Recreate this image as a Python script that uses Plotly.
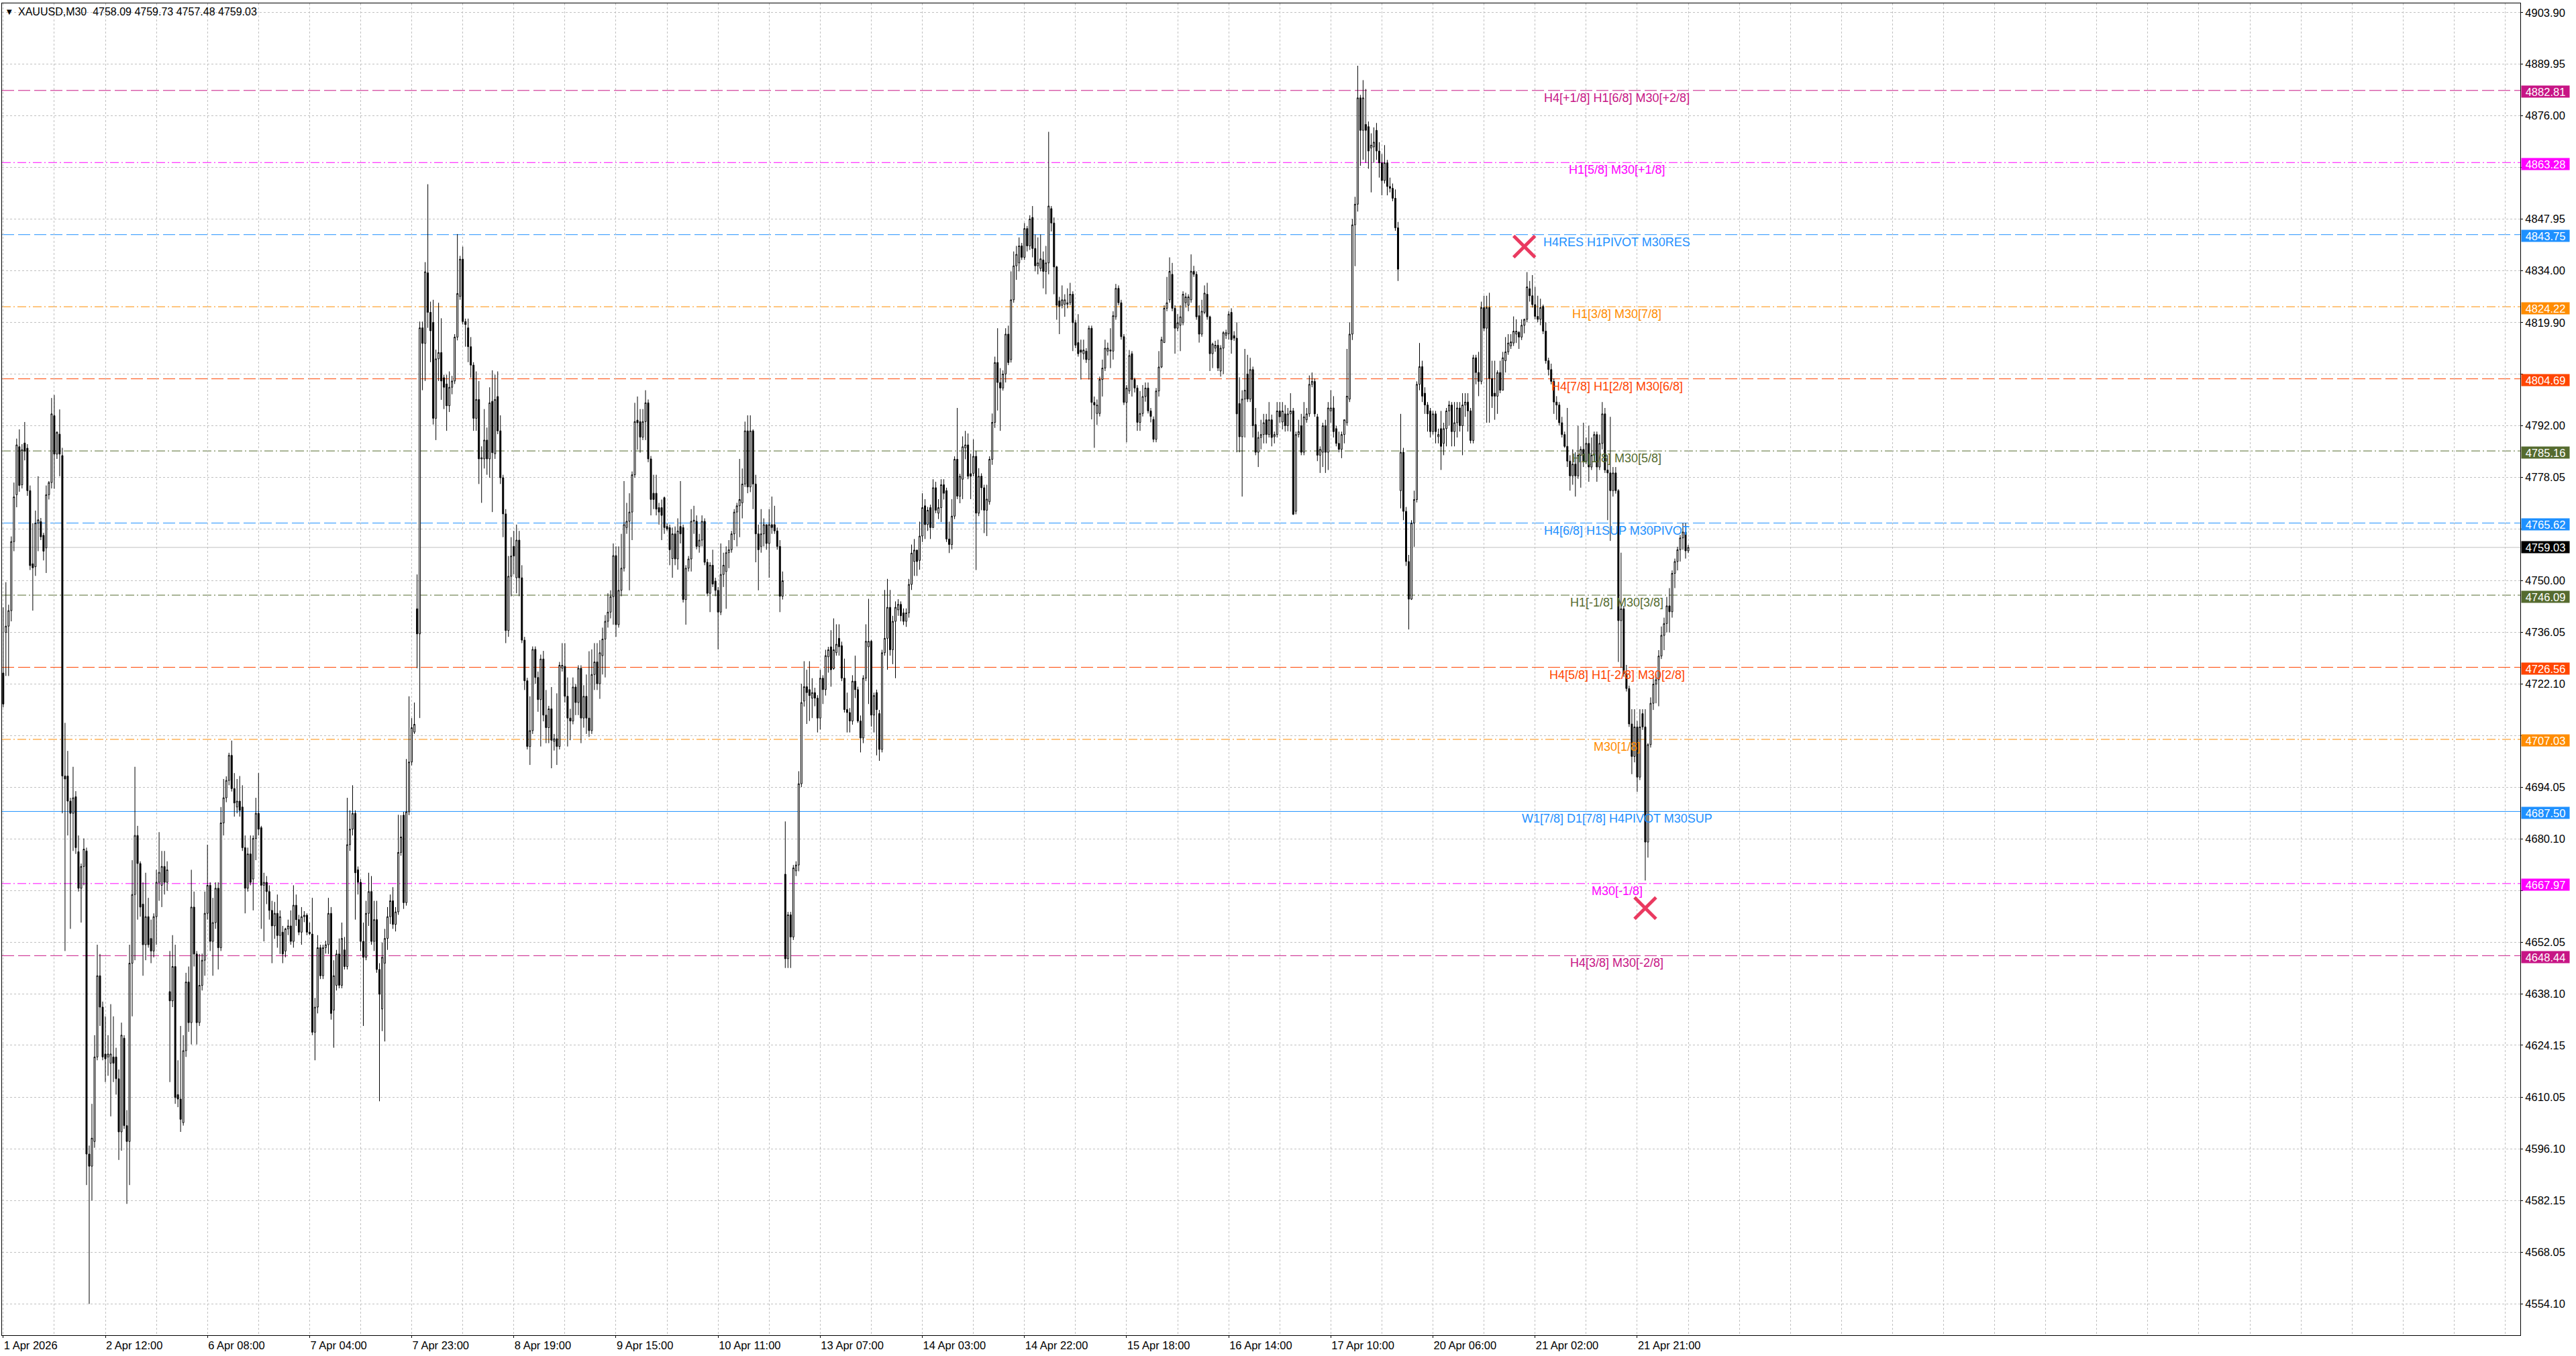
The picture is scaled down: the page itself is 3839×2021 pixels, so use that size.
import plotly.graph_objects as go

# XAUUSD M30 candles (bar 0 = 1 Apr 2026)
opens = [
    4725.0, 4736.0, 4737.7, 4741.9, 4760.6, 4773.3, 4786.3, 4776.0, 4787.3, 4785.9,
    4774.4, 4754.6, 4753.8, 4765.6, 4766.0, 4762.3, 4758.9, 4773.3, 4776.6, 4794.7,
    4784.3, 4789.7, 4783.9, 4697.1, 4697.1, 4690.3, 4687.0, 4691.5, 4676.6, 4666.7,
    4672.6, 4676.8, 4594.7, 4591.4, 4598.1, 4621.0, 4643.0, 4634.5, 4621.8, 4621.0,
    4619.3, 4621.0, 4621.0, 4615.1, 4600.7, 4626.1, 4602.4, 4598.1, 4646.4, 4665.0,
    4681.0, 4673.4, 4662.4, 4651.4, 4659.0, 4653.1, 4649.7, 4659.0, 4668.3, 4667.5,
    4672.6, 4668.3, 4638.7, 4636.2, 4645.5, 4610.8, 4609.6, 4603.2, 4622.7, 4641.3,
    4630.3, 4661.6, 4648.9, 4630.3, 4640.4, 4647.2, 4659.9, 4667.5, 4652.3, 4657.4,
    4666.7, 4650.6, 4684.4, 4691.2, 4695.9, 4702.7, 4693.7, 4688.7, 4690.3, 4688.7,
    4677.7, 4666.7, 4676.0, 4669.2, 4680.2, 4687.0, 4683.1, 4667.5, 4668.3, 4665.8,
    4660.7, 4656.5, 4659.9, 4653.9, 4654.8, 4649.7, 4655.7, 4656.5, 4652.3, 4662.1,
    4658.2, 4654.8, 4659.0, 4659.4, 4654.8, 4654.3, 4627.7, 4634.5, 4650.6, 4643.0,
    4650.6, 4651.4, 4659.9, 4633.7, 4640.4, 4648.9, 4640.4, 4650.0, 4645.5, 4678.5,
    4682.7, 4687.0, 4671.7, 4668.3, 4652.3, 4648.0, 4659.9, 4665.8, 4652.3, 4658.2,
    4644.7, 4634.0, 4646.4, 4653.1, 4659.0, 4663.3, 4656.9, 4660.3, 4676.4, 4686.5,
    4662.8, 4687.4, 4700.9, 4709.0, 4742.4, 4735.6, 4818.5, 4814.3, 4833.4, 4822.7,
    4820.0, 4794.0, 4810.1, 4811.8, 4805.0, 4803.3, 4797.4, 4802.4, 4804.1, 4816.0,
    4827.0, 4837.1, 4820.2, 4818.5, 4813.4, 4808.4, 4794.0, 4799.1, 4783.0, 4783.0,
    4788.1, 4783.0, 4798.6, 4784.4, 4799.9, 4790.6, 4777.9, 4768.1, 4736.5, 4751.2,
    4759.3, 4750.8, 4761.0, 4750.8, 4733.9, 4722.9, 4705.1, 4709.4, 4731.4, 4723.8,
    4717.8, 4728.8, 4713.6, 4710.2, 4715.3, 4706.5, 4707.2, 4705.1, 4726.3, 4726.8,
    4718.7, 4712.8, 4712.0, 4721.2, 4717.0, 4726.3, 4712.8, 4718.7, 4712.8, 4709.4,
    4724.6, 4728.0, 4722.1, 4729.7, 4734.2, 4739.0, 4741.5, 4745.7, 4756.8, 4738.1,
    4747.4, 4753.4, 4764.4, 4766.1, 4768.6, 4778.7, 4793.5, 4793.1, 4788.9, 4793.1,
    4798.2, 4783.0, 4773.7, 4773.7, 4769.8, 4769.8, 4772.5, 4764.7, 4764.4, 4756.0,
    4762.7, 4755.9, 4764.7, 4764.4, 4744.9, 4753.4, 4755.9, 4766.1, 4766.1, 4759.3,
    4761.0, 4766.1, 4755.0, 4746.6, 4754.2, 4749.9, 4747.4, 4741.5, 4751.7, 4752.5,
    4757.6, 4758.4, 4762.7, 4768.6, 4770.3, 4771.1, 4776.2, 4790.6, 4775.4, 4790.6,
    4776.2, 4762.7, 4759.3, 4762.7, 4765.2, 4760.1, 4765.2, 4765.2, 4763.5, 4759.3,
    4745.8, 4670.5, 4647.6, 4659.5, 4653.5, 4671.4, 4673.0, 4695.0, 4717.4, 4721.3,
    4720.5, 4718.2, 4719.7, 4718.2, 4712.8, 4723.6, 4720.5, 4729.4, 4732.1, 4726.2,
    4730.5, 4734.4, 4732.4, 4723.6, 4715.1, 4714.3, 4712.0, 4722.8, 4720.5, 4712.0,
    4707.4, 4723.6, 4732.1, 4733.6, 4713.6, 4719.7, 4714.0, 4704.3, 4730.5, 4734.4,
    4742.8, 4731.3, 4739.0, 4742.1, 4743.6, 4741.3, 4739.0, 4741.3, 4749.0, 4755.2,
    4758.3, 4755.5, 4762.1, 4770.3, 4765.2, 4769.8, 4764.4, 4775.2, 4768.3, 4769.8,
    4776.0, 4774.4, 4761.3, 4759.8, 4767.5, 4782.9, 4772.9, 4777.5, 4786.0, 4786.8,
    4779.0, 4779.1, 4783.7, 4768.3, 4778.3, 4775.2, 4769.1, 4771.4, 4782.9, 4792.9,
    4809.1, 4803.7, 4802.2, 4806.0, 4816.8, 4809.9, 4826.1, 4835.3, 4836.1, 4840.7,
    4837.6, 4845.4, 4840.7, 4848.4, 4840.0, 4835.3, 4834.6, 4836.9, 4833.8, 4836.1,
    4850.8, 4846.9, 4835.0, 4825.8, 4824.6, 4824.9, 4824.9, 4825.3, 4827.6, 4819.9,
    4814.5, 4812.5, 4811.5, 4812.2, 4809.9, 4818.4, 4798.3, 4795.3, 4795.3, 4804.5,
    4807.6, 4812.2, 4812.2, 4812.2, 4821.5, 4829.2, 4825.3, 4816.1, 4798.3, 4801.4,
    4811.5, 4804.5, 4802.2, 4792.9, 4795.3, 4799.9, 4802.2, 4796.0, 4793.7, 4788.3,
    4801.4, 4807.9, 4814.5, 4823.8, 4826.1, 4833.0, 4823.8, 4818.4, 4819.2, 4819.9,
    4825.3, 4824.6, 4826.1, 4833.8, 4833.0, 4821.8, 4816.8, 4822.7, 4827.6, 4821.5,
    4811.5, 4813.0, 4813.8, 4806.8, 4813.0, 4816.5, 4816.9, 4822.7, 4816.4, 4815.7,
    4798.0, 4789.0, 4799.2, 4806.0, 4799.2, 4807.2, 4792.3, 4784.8, 4788.8, 4789.6,
    4793.6, 4789.6, 4793.6, 4789.0, 4789.6, 4796.0, 4793.0, 4795.2, 4792.0, 4795.2,
    4796.0, 4768.8, 4789.6, 4792.0, 4784.8, 4793.6, 4795.2, 4803.2, 4804.0, 4794.4,
    4784.0, 4784.8, 4792.0, 4784.8, 4796.0, 4796.8, 4791.2, 4787.2, 4785.6, 4789.6,
    4792.8, 4799.2, 4816.8, 4846.4, 4852.0, 4880.8, 4872.0, 4873.6, 4873.0, 4867.2,
    4867.5, 4872.0, 4866.4, 4863.2, 4858.4, 4863.2, 4856.8, 4856.3, 4853.6, 4845.6,
    4774.4, 4784.8, 4768.8, 4755.2, 4745.0, 4765.6, 4772.0, 4803.2, 4808.0, 4800.8,
    4797.6, 4796.0, 4790.4, 4795.2, 4789.0, 4791.2, 4787.2, 4791.2, 4796.0, 4797.6,
    4790.4, 4792.8, 4796.8, 4792.0, 4797.6, 4798.4, 4796.0, 4788.0, 4810.4, 4806.4,
    4804.0, 4824.0, 4818.4, 4824.0, 4804.8, 4800.8, 4800.0, 4806.4, 4801.6, 4809.6,
    4812.0, 4813.6, 4814.4, 4816.8, 4817.3, 4816.0, 4819.2, 4820.8, 4829.1, 4827.2,
    4824.8, 4821.6, 4820.8, 4824.3, 4817.6, 4809.6, 4807.2, 4804.0, 4798.4, 4797.6,
    4792.8, 4789.6, 4786.4, 4782.4, 4778.4, 4781.6, 4778.4, 4784.0, 4785.6, 4782.4,
    4787.2, 4780.8, 4784.0, 4789.6, 4780.8, 4787.2, 4795.2, 4780.0, 4779.2, 4774.4,
    4779.2, 4774.4, 4739.2, 4742.4, 4724.8, 4720.8, 4711.2, 4702.4, 4710.4, 4696.8,
    4714.0, 4710.4, 4679.2, 4705.6, 4716.8, 4722.0, 4723.2, 4729.6, 4735.2, 4738.4,
    4743.2, 4741.6, 4752.0, 4755.2, 4758.4, 4761.6, 4763.2, 4758.09,
]

highs = [
    4742.8, 4749.6, 4743.5, 4762.0, 4776.6, 4788.5, 4791.0, 4787.0, 4793.0, 4787.0,
    4775.8, 4765.6, 4769.0, 4778.3, 4767.0, 4763.0, 4775.8, 4777.0, 4799.5, 4800.3,
    4790.5, 4796.4, 4786.0, 4711.5, 4703.9, 4691.2, 4699.6, 4693.0, 4681.0, 4673.4,
    4680.2, 4677.7, 4597.0, 4608.3, 4626.9, 4651.4, 4648.9, 4636.0, 4632.0, 4626.9,
    4635.3, 4632.0, 4623.5, 4617.6, 4630.3, 4626.9, 4606.6, 4651.4, 4674.3, 4699.6,
    4683.6, 4674.0, 4668.3, 4670.9, 4664.1, 4658.2, 4659.9, 4671.7, 4681.9, 4676.8,
    4676.8, 4674.0, 4649.7, 4654.0, 4651.4, 4620.1, 4629.4, 4626.9, 4643.8, 4645.5,
    4671.7, 4665.8, 4649.7, 4648.9, 4649.0, 4665.8, 4678.5, 4668.3, 4664.1, 4668.3,
    4668.3, 4688.7, 4696.3, 4697.0, 4703.4, 4706.7, 4697.9, 4696.3, 4697.1, 4694.6,
    4681.0, 4677.7, 4681.0, 4681.0, 4691.2, 4697.9, 4683.6, 4670.9, 4670.0, 4667.5,
    4663.3, 4663.0, 4665.0, 4660.7, 4656.5, 4656.0, 4658.2, 4660.7, 4667.5, 4665.0,
    4659.5, 4661.6, 4660.5, 4659.9, 4657.4, 4664.1, 4637.0, 4654.0, 4651.4, 4651.4,
    4652.5, 4664.1, 4661.6, 4647.2, 4650.0, 4653.1, 4657.4, 4653.5, 4691.2, 4687.8,
    4694.6, 4687.8, 4672.6, 4669.2, 4657.4, 4663.3, 4670.9, 4670.0, 4663.3, 4663.3,
    4646.4, 4652.0, 4655.7, 4661.6, 4665.0, 4667.0, 4661.6, 4686.6, 4686.5, 4687.4,
    4701.7, 4718.7, 4712.8, 4717.0, 4751.7, 4820.2, 4820.2, 4836.3, 4857.4, 4825.6,
    4826.1, 4812.6, 4825.3, 4821.1, 4805.8, 4805.8, 4806.7, 4805.5, 4816.8, 4843.9,
    4838.0, 4840.5, 4821.0, 4821.0, 4816.0, 4809.2, 4806.7, 4804.1, 4786.4, 4796.5,
    4791.5, 4802.4, 4807.0, 4805.8, 4806.7, 4794.8, 4778.7, 4769.4, 4756.7, 4761.8,
    4763.5, 4765.2, 4763.5, 4754.2, 4734.8, 4723.7, 4718.7, 4732.2, 4732.2, 4725.4,
    4730.0, 4731.0, 4720.4, 4716.1, 4721.2, 4708.5, 4719.5, 4728.0, 4733.1, 4733.1,
    4723.8, 4715.3, 4723.8, 4722.0, 4727.1, 4727.1, 4721.7, 4724.6, 4730.9, 4731.4,
    4733.1, 4733.1, 4733.9, 4737.3, 4740.7, 4746.6, 4747.4, 4760.1, 4759.3, 4759.3,
    4762.7, 4777.0, 4771.1, 4773.7, 4779.6, 4798.2, 4799.9, 4796.5, 4796.5, 4801.6,
    4799.1, 4783.8, 4778.7, 4778.7, 4771.1, 4772.0, 4772.8, 4765.5, 4765.2, 4764.4,
    4764.7, 4766.9, 4777.0, 4765.2, 4754.2, 4756.7, 4769.4, 4770.3, 4767.7, 4762.7,
    4767.7, 4766.9, 4755.9, 4755.0, 4758.4, 4750.8, 4748.3, 4760.1, 4757.6, 4759.3,
    4761.0, 4763.5, 4769.4, 4771.1, 4783.0, 4780.4, 4793.1, 4794.8, 4794.8, 4791.0,
    4778.7, 4765.2, 4769.4, 4766.9, 4765.2, 4769.4, 4772.8, 4770.3, 4764.4, 4761.0,
    4752.5, 4684.8, 4660.3, 4660.3, 4673.0, 4674.0, 4698.4, 4722.1, 4728.2, 4725.9,
    4728.2, 4723.6, 4721.0, 4719.0, 4725.9, 4724.4, 4731.3, 4732.1, 4736.6, 4739.8,
    4738.2, 4738.2, 4733.5, 4728.9, 4719.7, 4715.5, 4724.4, 4729.7, 4721.3, 4713.5,
    4724.4, 4738.2, 4745.1, 4734.0, 4719.7, 4720.5, 4715.0, 4731.3, 4747.5, 4750.5,
    4747.5, 4740.5, 4744.4, 4745.0, 4744.4, 4742.5, 4742.5, 4750.5, 4759.8, 4761.3,
    4758.3, 4766.0, 4773.7, 4772.1, 4770.0, 4770.6, 4777.5, 4776.8, 4772.1, 4777.5,
    4777.5, 4775.2, 4766.0, 4772.1, 4783.7, 4796.8, 4779.0, 4789.1, 4790.6, 4789.9,
    4784.4, 4788.3, 4785.2, 4780.5, 4779.1, 4776.0, 4776.0, 4783.7, 4795.3, 4810.7,
    4818.4, 4807.6, 4807.0, 4818.4, 4819.1, 4833.8, 4839.2, 4840.7, 4843.0, 4841.5,
    4846.9, 4846.1, 4849.0, 4851.5, 4843.8, 4843.0, 4843.8, 4839.2, 4840.7, 4871.6,
    4851.5, 4848.4, 4835.3, 4826.9, 4830.0, 4827.6, 4829.2, 4830.7, 4828.4, 4820.7,
    4822.2, 4815.3, 4815.3, 4813.0, 4819.1, 4819.1, 4799.9, 4799.1, 4805.3, 4809.9,
    4815.3, 4814.5, 4818.4, 4823.0, 4830.4, 4830.0, 4826.1, 4816.8, 4803.0, 4812.5,
    4812.2, 4805.0, 4803.0, 4801.4, 4803.0, 4803.7, 4803.7, 4796.8, 4794.5, 4802.2,
    4812.2, 4816.1, 4824.6, 4832.3, 4837.6, 4836.1, 4824.6, 4822.2, 4824.6, 4828.4,
    4828.0, 4827.6, 4838.4, 4835.3, 4833.8, 4824.6, 4826.1, 4830.0, 4830.7, 4821.8,
    4814.5, 4815.0, 4815.3, 4813.8, 4817.6, 4818.0, 4823.0, 4823.8, 4817.6, 4820.0,
    4805.1, 4801.6, 4812.8, 4811.2, 4810.4, 4808.0, 4796.8, 4790.4, 4793.6, 4795.2,
    4795.2, 4798.4, 4795.0, 4790.4, 4798.4, 4798.4, 4798.4, 4797.6, 4796.8, 4800.8,
    4796.8, 4790.4, 4793.6, 4795.2, 4798.4, 4796.8, 4805.6, 4806.4, 4804.8, 4795.2,
    4786.4, 4792.8, 4793.6, 4798.4, 4801.6, 4800.0, 4792.0, 4790.4, 4790.4, 4793.6,
    4812.8, 4820.0, 4848.0, 4854.0, 4889.5, 4881.6, 4885.6, 4883.2, 4874.4, 4871.2,
    4872.8, 4874.0, 4868.8, 4865.6, 4868.0, 4864.0, 4859.2, 4857.6, 4856.0, 4847.2,
    4795.2, 4786.0, 4770.0, 4757.0, 4766.4, 4774.4, 4804.0, 4814.4, 4809.6, 4802.4,
    4798.4, 4796.8, 4796.0, 4796.0, 4791.2, 4796.0, 4792.8, 4796.8, 4798.7, 4798.4,
    4798.4, 4798.4, 4798.4, 4800.8, 4800.8, 4800.8, 4796.8, 4811.2, 4811.2, 4812.0,
    4825.6, 4827.2, 4827.2, 4828.0, 4809.6, 4809.6, 4807.0, 4809.6, 4812.0, 4816.0,
    4816.8, 4816.8, 4821.6, 4820.8, 4817.6, 4820.8, 4821.0, 4833.6, 4831.2, 4832.8,
    4829.6, 4827.2, 4826.4, 4824.8, 4820.0, 4810.4, 4808.8, 4804.8, 4800.0, 4798.4,
    4794.4, 4790.4, 4796.8, 4784.0, 4785.6, 4784.8, 4792.0, 4786.4, 4792.8, 4788.8,
    4792.0, 4788.8, 4790.4, 4790.4, 4789.6, 4798.4, 4796.8, 4784.0, 4794.4, 4780.8,
    4780.8, 4774.8, 4757.6, 4743.2, 4727.2, 4721.6, 4715.2, 4715.2, 4712.0, 4715.2,
    4715.2, 4715.2, 4706.0, 4718.4, 4724.0, 4724.8, 4731.2, 4737.6, 4740.0, 4745.6,
    4748.0, 4752.8, 4756.0, 4759.2, 4762.4, 4765.6, 4765.6, 4759.73,
]

lows = [
    4715.7, 4724.2, 4724.2, 4739.0, 4758.0, 4769.9, 4774.1, 4775.0, 4782.6, 4773.0,
    4752.9, 4741.9, 4751.3, 4758.0, 4761.0, 4755.5, 4752.1, 4772.0, 4775.0, 4774.9,
    4783.0, 4778.3, 4687.0, 4649.7, 4681.0, 4655.7, 4676.8, 4676.0, 4665.8, 4657.4,
    4667.5, 4586.3, 4554.1, 4582.1, 4596.4, 4620.1, 4629.4, 4620.1, 4614.2, 4615.9,
    4604.9, 4614.2, 4610.8, 4593.1, 4595.6, 4601.5, 4581.2, 4586.3, 4632.0, 4647.2,
    4658.2, 4659.0, 4643.0, 4647.2, 4650.6, 4646.4, 4648.0, 4651.4, 4663.3, 4661.6,
    4665.0, 4666.0, 4614.2, 4634.5, 4608.3, 4607.4, 4600.7, 4602.4, 4621.0, 4627.8,
    4624.4, 4645.5, 4624.4, 4629.4, 4639.0, 4643.0, 4658.2, 4649.7, 4643.0, 4655.7,
    4644.7, 4649.7, 4681.0, 4690.0, 4694.6, 4692.9, 4686.1, 4687.0, 4686.1, 4676.8,
    4659.9, 4665.8, 4667.5, 4660.7, 4674.3, 4681.0, 4655.7, 4652.3, 4662.4, 4658.2,
    4646.4, 4653.0, 4650.6, 4648.9, 4646.4, 4648.0, 4654.0, 4651.4, 4650.6, 4656.5,
    4654.0, 4651.4, 4657.5, 4654.0, 4654.0, 4626.9, 4620.1, 4632.8, 4642.1, 4642.1,
    4649.0, 4648.9, 4631.1, 4623.5, 4639.0, 4639.6, 4639.6, 4644.7, 4644.7, 4676.8,
    4681.0, 4658.2, 4665.0, 4649.7, 4629.4, 4647.2, 4656.5, 4651.4, 4649.7, 4643.8,
    4609.0, 4628.0, 4625.2, 4650.0, 4657.0, 4655.7, 4655.0, 4659.5, 4675.5, 4661.1,
    4662.0, 4686.5, 4700.0, 4708.5, 4726.3, 4712.8, 4801.6, 4804.1, 4818.5, 4809.2,
    4792.3, 4788.1, 4804.1, 4799.0, 4796.5, 4790.6, 4795.7, 4800.5, 4803.3, 4815.1,
    4826.1, 4819.4, 4813.4, 4809.2, 4805.0, 4790.6, 4790.6, 4776.2, 4771.1, 4780.4,
    4778.7, 4777.9, 4768.6, 4783.0, 4789.7, 4776.2, 4761.8, 4733.1, 4734.8, 4745.8,
    4751.7, 4746.6, 4745.8, 4733.1, 4720.4, 4704.3, 4700.1, 4708.5, 4722.1, 4714.5,
    4705.1, 4711.9, 4706.0, 4706.0, 4699.2, 4704.0, 4700.1, 4704.3, 4725.4, 4717.0,
    4705.1, 4706.8, 4711.1, 4713.6, 4713.6, 4706.0, 4710.2, 4708.5, 4707.7, 4708.5,
    4720.4, 4720.4, 4718.0, 4724.6, 4723.8, 4737.3, 4739.8, 4738.1, 4734.8, 4737.3,
    4745.8, 4752.5, 4762.7, 4747.4, 4761.0, 4777.9, 4785.5, 4784.7, 4788.1, 4788.1,
    4782.1, 4767.7, 4769.4, 4767.7, 4765.2, 4761.0, 4762.7, 4763.5, 4754.2, 4750.8,
    4754.2, 4753.0, 4760.1, 4744.1, 4738.1, 4752.5, 4752.5, 4762.7, 4758.5, 4757.6,
    4759.3, 4754.2, 4745.8, 4741.5, 4748.3, 4745.8, 4731.4, 4740.7, 4748.3, 4742.4,
    4753.4, 4757.6, 4761.0, 4759.3, 4761.8, 4766.9, 4775.4, 4773.7, 4774.0, 4769.4,
    4755.0, 4747.4, 4757.6, 4759.3, 4758.4, 4750.8, 4762.7, 4762.7, 4758.4, 4741.5,
    4744.9, 4645.1, 4645.1, 4645.1, 4652.7, 4670.0, 4671.3, 4694.1, 4715.9, 4711.2,
    4712.0, 4712.8, 4716.0, 4708.9, 4709.7, 4716.6, 4718.9, 4725.1, 4721.3, 4725.9,
    4729.7, 4729.7, 4722.8, 4714.3, 4708.9, 4708.9, 4711.0, 4718.2, 4711.5, 4703.5,
    4706.0, 4722.8, 4716.6, 4710.5, 4708.9, 4702.7, 4701.2, 4703.5, 4729.7, 4725.9,
    4729.7, 4727.4, 4723.6, 4740.5, 4739.0, 4738.0, 4737.5, 4740.0, 4747.5, 4751.3,
    4751.3, 4753.0, 4760.5, 4761.3, 4763.5, 4761.3, 4764.4, 4768.3, 4766.7, 4765.9,
    4772.0, 4760.5, 4757.5, 4758.5, 4766.7, 4772.1, 4771.0, 4772.1, 4782.9, 4777.5,
    4772.1, 4778.3, 4752.9, 4767.5, 4769.1, 4762.9, 4762.1, 4770.6, 4781.4, 4791.4,
    4796.1, 4790.6, 4801.5, 4803.7, 4808.4, 4809.1, 4825.3, 4831.5, 4833.8, 4836.9,
    4836.9, 4839.2, 4839.6, 4837.6, 4833.8, 4833.0, 4833.8, 4829.2, 4827.6, 4833.0,
    4844.6, 4827.6, 4820.7, 4816.8, 4823.8, 4821.5, 4823.8, 4824.6, 4812.2, 4813.0,
    4810.7, 4804.5, 4809.9, 4809.0, 4804.5, 4793.7, 4786.0, 4792.2, 4794.5, 4799.9,
    4806.8, 4811.0, 4807.6, 4809.9, 4820.7, 4824.6, 4815.3, 4797.6, 4787.5, 4800.6,
    4799.9, 4801.0, 4790.6, 4790.6, 4794.5, 4798.5, 4795.3, 4792.9, 4787.5, 4787.5,
    4799.9, 4807.6, 4814.5, 4823.0, 4825.3, 4823.0, 4811.5, 4817.6, 4812.2, 4819.2,
    4824.0, 4823.0, 4825.3, 4832.3, 4820.7, 4814.5, 4816.1, 4822.2, 4820.7, 4806.8,
    4807.6, 4812.0, 4806.8, 4805.3, 4806.0, 4815.5, 4815.3, 4811.5, 4815.0, 4784.8,
    4784.8, 4772.8, 4788.8, 4798.4, 4798.4, 4788.8, 4784.0, 4780.8, 4785.6, 4787.2,
    4787.2, 4788.8, 4786.4, 4787.2, 4788.8, 4792.8, 4791.0, 4790.4, 4790.5, 4790.4,
    4767.8, 4768.0, 4788.8, 4784.0, 4784.0, 4792.8, 4794.4, 4802.4, 4794.4, 4782.4,
    4779.2, 4780.8, 4779.2, 4780.0, 4792.8, 4788.8, 4786.4, 4784.8, 4783.2, 4787.2,
    4792.0, 4798.4, 4815.2, 4835.2, 4850.0, 4862.4, 4864.0, 4863.2, 4861.6, 4855.2,
    4863.2, 4864.0, 4859.2, 4854.4, 4857.6, 4854.4, 4855.2, 4852.8, 4844.8, 4831.2,
    4769.6, 4766.4, 4754.0, 4736.8, 4744.8, 4759.2, 4771.2, 4801.6, 4798.4, 4795.2,
    4790.4, 4788.8, 4789.6, 4787.2, 4787.2, 4780.0, 4784.0, 4786.4, 4792.0, 4786.4,
    4786.4, 4788.8, 4790.4, 4784.0, 4794.4, 4790.4, 4787.2, 4787.2, 4803.2, 4800.0,
    4803.2, 4817.6, 4792.8, 4792.8, 4796.8, 4793.6, 4795.2, 4800.8, 4801.6, 4806.4,
    4811.2, 4812.8, 4813.6, 4814.4, 4812.8, 4815.2, 4817.0, 4820.0, 4825.6, 4824.0,
    4820.8, 4820.0, 4819.2, 4816.8, 4808.8, 4805.6, 4803.2, 4795.2, 4793.6, 4792.0,
    4788.8, 4786.0, 4780.8, 4774.4, 4776.0, 4772.8, 4777.6, 4775.2, 4780.8, 4781.6,
    4776.8, 4780.0, 4782.4, 4776.8, 4780.0, 4785.6, 4779.2, 4766.4, 4760.8, 4772.8,
    4773.6, 4728.0, 4726.4, 4724.0, 4720.0, 4710.4, 4697.6, 4700.8, 4692.8, 4696.0,
    4709.6, 4668.8, 4675.0, 4704.8, 4715.0, 4716.8, 4716.0, 4728.8, 4731.2, 4736.0,
    4736.0, 4740.0, 4748.0, 4752.8, 4755.2, 4758.4, 4756.0, 4757.48,
]

closes = [
    4716.6, 4737.7, 4741.9, 4760.6, 4772.7, 4786.8, 4775.8, 4785.5, 4785.1, 4774.4,
    4754.1, 4753.5, 4765.6, 4766.5, 4761.9, 4758.0, 4773.3, 4776.6, 4795.2, 4784.3,
    4790.2, 4784.3, 4697.1, 4696.3, 4690.3, 4687.0, 4691.2, 4677.7, 4666.7, 4672.6,
    4677.3, 4594.7, 4591.4, 4599.0, 4621.0, 4643.0, 4634.5, 4621.0, 4620.5, 4621.8,
    4621.8, 4619.3, 4615.1, 4600.7, 4626.9, 4602.4, 4598.1, 4646.4, 4665.0, 4681.0,
    4673.4, 4661.6, 4651.4, 4659.0, 4651.4, 4649.7, 4659.0, 4668.3, 4671.0, 4672.6,
    4668.3, 4671.7, 4636.2, 4645.5, 4610.0, 4609.6, 4604.1, 4622.7, 4641.3, 4630.3,
    4661.6, 4648.9, 4630.3, 4640.4, 4647.2, 4659.9, 4667.5, 4652.3, 4657.4, 4666.7,
    4650.6, 4684.4, 4691.2, 4695.9, 4702.7, 4693.7, 4689.8, 4690.3, 4687.8, 4677.7,
    4666.7, 4676.0, 4668.3, 4680.2, 4687.0, 4682.7, 4667.5, 4668.3, 4665.8, 4660.7,
    4656.5, 4659.9, 4653.9, 4659.0, 4648.9, 4655.7, 4656.5, 4652.3, 4662.1, 4658.2,
    4654.8, 4659.0, 4659.4, 4654.8, 4654.4, 4627.7, 4634.5, 4650.6, 4643.0, 4650.6,
    4651.4, 4659.9, 4632.8, 4643.0, 4648.9, 4640.4, 4653.1, 4645.5, 4678.5, 4682.7,
    4687.0, 4670.9, 4668.3, 4652.3, 4648.0, 4659.9, 4665.8, 4652.3, 4658.2, 4644.7,
    4638.0, 4648.0, 4653.1, 4659.0, 4663.3, 4656.9, 4660.3, 4676.4, 4680.6, 4662.8,
    4687.4, 4700.9, 4710.2, 4711.1, 4735.6, 4818.5, 4814.3, 4833.7, 4822.7, 4817.7,
    4794.0, 4810.1, 4811.8, 4804.1, 4802.4, 4797.4, 4802.4, 4804.1, 4816.0, 4827.8,
    4837.1, 4820.2, 4819.4, 4813.4, 4808.4, 4794.0, 4799.1, 4783.0, 4783.3, 4788.1,
    4783.0, 4798.2, 4784.7, 4799.1, 4790.6, 4777.9, 4768.1, 4736.5, 4751.2, 4756.7,
    4756.7, 4761.0, 4750.8, 4733.9, 4722.9, 4705.1, 4709.4, 4731.4, 4723.8, 4717.8,
    4728.8, 4713.6, 4710.2, 4715.3, 4706.8, 4707.2, 4705.1, 4727.1, 4727.1, 4718.7,
    4712.8, 4712.0, 4721.2, 4717.0, 4726.3, 4712.8, 4718.7, 4712.8, 4709.4, 4724.6,
    4728.0, 4722.1, 4730.5, 4734.2, 4739.0, 4741.5, 4745.7, 4756.8, 4738.1, 4747.4,
    4753.4, 4765.2, 4766.1, 4768.6, 4778.7, 4793.1, 4792.8, 4788.9, 4793.1, 4798.2,
    4783.0, 4772.0, 4772.0, 4769.4, 4768.6, 4767.7, 4764.4, 4764.0, 4758.4, 4762.7,
    4755.9, 4763.5, 4762.7, 4744.9, 4753.4, 4755.9, 4766.1, 4766.4, 4759.3, 4761.0,
    4766.1, 4755.0, 4746.6, 4754.2, 4749.1, 4747.4, 4741.5, 4751.7, 4754.2, 4757.6,
    4758.4, 4762.7, 4768.6, 4770.3, 4772.0, 4776.2, 4790.6, 4775.4, 4790.6, 4776.2,
    4762.7, 4758.4, 4762.7, 4765.2, 4760.1, 4765.2, 4764.4, 4763.5, 4759.3, 4745.8,
    4750.0, 4647.6, 4659.5, 4653.5, 4672.2, 4673.0, 4695.0, 4717.0, 4721.3, 4719.7,
    4718.9, 4719.7, 4718.2, 4712.8, 4723.6, 4720.5, 4729.7, 4731.3, 4725.9, 4731.3,
    4732.8, 4732.1, 4723.6, 4715.1, 4714.3, 4712.0, 4722.8, 4720.5, 4712.0, 4707.4,
    4723.6, 4733.6, 4733.6, 4713.6, 4718.9, 4715.1, 4704.3, 4730.5, 4734.4, 4742.8,
    4731.3, 4739.0, 4742.8, 4743.6, 4740.5, 4739.0, 4741.3, 4749.0, 4757.5, 4758.3,
    4755.2, 4762.1, 4769.8, 4765.2, 4769.1, 4764.4, 4775.2, 4769.1, 4769.8, 4776.0,
    4773.7, 4761.3, 4759.8, 4767.5, 4782.9, 4772.9, 4778.3, 4786.3, 4786.8, 4778.3,
    4778.3, 4783.7, 4768.3, 4778.3, 4775.2, 4769.1, 4772.1, 4782.9, 4792.9, 4809.1,
    4803.7, 4802.2, 4806.0, 4816.8, 4809.1, 4826.1, 4835.3, 4838.4, 4840.7, 4837.6,
    4845.4, 4840.7, 4848.0, 4840.0, 4835.3, 4836.1, 4837.2, 4833.8, 4836.1, 4851.5,
    4846.9, 4835.0, 4824.6, 4824.3, 4826.1, 4826.1, 4825.3, 4827.6, 4819.9, 4813.8,
    4811.5, 4811.9, 4812.5, 4809.9, 4818.4, 4798.3, 4797.6, 4797.6, 4804.5, 4807.6,
    4813.0, 4813.0, 4812.5, 4821.8, 4829.2, 4825.3, 4816.1, 4798.3, 4802.2, 4811.0,
    4804.5, 4802.2, 4792.9, 4795.3, 4799.9, 4802.2, 4796.0, 4794.5, 4788.3, 4801.4,
    4807.9, 4815.3, 4823.8, 4825.3, 4833.8, 4823.8, 4818.4, 4819.9, 4821.5, 4827.6,
    4826.9, 4826.9, 4833.8, 4833.0, 4821.5, 4816.8, 4823.0, 4827.9, 4821.5, 4811.5,
    4814.1, 4813.8, 4807.6, 4813.0, 4817.2, 4817.2, 4822.2, 4815.3, 4815.7, 4795.2,
    4789.0, 4799.2, 4801.6, 4799.2, 4807.2, 4792.0, 4784.8, 4788.8, 4789.6, 4792.8,
    4789.6, 4793.6, 4788.8, 4789.6, 4796.0, 4794.4, 4796.0, 4792.0, 4795.2, 4796.0,
    4768.0, 4789.6, 4790.4, 4784.8, 4794.4, 4795.2, 4803.2, 4804.0, 4795.2, 4784.0,
    4785.6, 4792.0, 4784.8, 4796.8, 4796.8, 4790.4, 4787.2, 4785.6, 4789.6, 4793.6,
    4800.0, 4816.8, 4846.4, 4852.0, 4880.8, 4872.0, 4880.8, 4872.0, 4866.4, 4868.0,
    4868.8, 4866.4, 4863.2, 4858.4, 4863.2, 4856.8, 4856.3, 4853.6, 4845.6, 4834.4,
    4784.8, 4768.8, 4755.2, 4745.0, 4765.6, 4772.0, 4803.2, 4808.0, 4800.0, 4797.6,
    4795.2, 4790.4, 4795.2, 4790.4, 4789.6, 4786.4, 4791.2, 4796.0, 4797.6, 4790.4,
    4792.8, 4796.8, 4792.0, 4797.6, 4798.4, 4796.0, 4788.0, 4810.4, 4806.4, 4804.0,
    4824.0, 4818.4, 4824.0, 4804.8, 4800.0, 4800.0, 4806.4, 4801.6, 4810.4, 4812.0,
    4814.4, 4814.7, 4817.6, 4817.6, 4816.0, 4819.2, 4820.8, 4829.6, 4827.2, 4824.8,
    4821.6, 4820.8, 4824.0, 4817.6, 4809.6, 4807.2, 4804.0, 4798.4, 4797.6, 4792.8,
    4789.6, 4786.4, 4782.4, 4778.4, 4781.6, 4778.4, 4784.0, 4785.6, 4782.4, 4787.2,
    4780.8, 4784.0, 4789.6, 4780.8, 4787.2, 4795.2, 4780.0, 4779.2, 4774.4, 4779.2,
    4774.4, 4739.2, 4742.4, 4724.8, 4720.8, 4711.2, 4702.4, 4710.4, 4696.8, 4710.4,
    4710.4, 4679.2, 4705.6, 4716.8, 4722.0, 4723.2, 4729.6, 4735.2, 4738.4, 4743.2,
    4741.6, 4752.0, 4755.2, 4758.4, 4761.6, 4763.2, 4758.1, 4759.03,
]

# time axis labels, one every 38 bars (19 h of trading)
date_labels = [
    "1 Apr 2026", "2 Apr 12:00", "6 Apr 08:00", "7 Apr 04:00", "7 Apr 23:00",
    "8 Apr 19:00", "9 Apr 15:00", "10 Apr 11:00", "13 Apr 07:00", "14 Apr 03:00",
    "14 Apr 22:00", "15 Apr 18:00", "16 Apr 14:00", "17 Apr 10:00", "20 Apr 06:00",
    "21 Apr 02:00", "21 Apr 21:00",
]

# price scale ticks as printed by the terminal
price_ticks = [
    4903.90, 4889.95, 4876.00, 4862.05, 4847.95, 4834.00, 4819.90, 4805.95,
    4792.00, 4778.05, 4763.95, 4750.00, 4736.05, 4722.10, 4708.00, 4694.05,
    4680.10, 4666.00, 4652.05, 4638.10, 4624.15, 4610.05, 4596.10, 4582.15,
    4568.05, 4554.10,
]

# Murrey-math style levels drawn by the indicator
level_prices = [4882.81, 4863.28, 4843.75, 4824.22, 4804.69, 4785.16, 4765.62,
                4746.09, 4726.56, 4707.03, 4687.50, 4667.97, 4648.44]
level_names = [
    "H4[+1/8] H1[6/8] M30[+2/8]",
    "H1[5/8] M30[+1/8]",
    "H4RES H1PIVOT M30RES",
    "H1[3/8] M30[7/8]",
    "H4[7/8] H1[2/8] M30[6/8]",
    "H1[1/8] M30[5/8]",
    "H4[6/8] H1SUP M30PIVOT",
    "H1[-1/8] M30[3/8]",
    "H4[5/8] H1[-2/8] M30[2/8]",
    "M30[1/8]",
    "W1[7/8] D1[7/8] H4PIVOT M30SUP",
    "M30[-1/8]",
    "H4[3/8] M30[-2/8]",
]

# the two cross signals
signal_bars = [566, 611]
signal_prices = [4840.5, 4661.3]

# styles
level_colors = ["#C71585", "#FF00FF", "#1E90FF", "#FF8C00", "#FF4500", "#556B2F", "#1E90FF",
                "#556B2F", "#FF4500", "#FF8C00", "#1E90FF", "#FF00FF", "#C71585"]
DASH = "18px,6px"
DASHDOT = "13px,4px,2px,4px"
level_dash = [DASH, DASHDOT, DASH, DASHDOT, DASH, DASHDOT, DASH,
              DASHDOT, DASH, DASHDOT, "solid", DASHDOT, DASH]

FONT = "Liberation Sans, Arial, DejaVu Sans, sans-serif"
GRID = "#C0C0C0"

n = min(len(opens), len(highs), len(lows), len(closes))
bars = list(range(n))
label_bars = [i * 38 for i in range(len(date_labels))]
grid_bars = list(range(0, 937, 19))
last = closes[n - 1]

# scale labels that sit under a coloured price box are covered in the terminal
boxed = level_prices + [last]
tick_text = ["" if any(abs(v - b) < 2.5 for b in boxed) else f"{v:.2f}" for v in price_ticks]

fig = go.Figure()
fig.add_trace(go.Candlestick(
    x=bars, open=opens[:n], high=highs[:n], low=lows[:n], close=closes[:n],
    increasing=dict(line=dict(color="black", width=1), fillcolor="white"),
    decreasing=dict(line=dict(color="black", width=1), fillcolor="black"),
    whiskerwidth=0, hoverinfo="skip", showlegend=False,
))
fig.add_trace(go.Scatter(
    x=signal_bars, y=signal_prices, mode="markers", hoverinfo="skip", showlegend=False,
    marker=dict(symbol="x-thin", size=32, color="#EA3A60",
                line=dict(color="#EA3A60", width=5)),
))

shapes = []
annotations = []
for p, name, col, dash in zip(level_prices, level_names, level_colors, level_dash):
    shapes.append(dict(type="line", xref="paper", x0=0, x1=1, yref="y", y0=p, y1=p,
                       line=dict(color=col, width=1, dash=dash), layer="between"))
    annotations.append(dict(x=600.5, y=p, xref="x", yref="y", text=name, showarrow=False,
                            xanchor="center", yanchor="top", borderpad=0,
                            font=dict(family=FONT, size=18, color=col)))
    annotations.append(dict(x=1, y=p, xref="paper", yref="y", text=f"{p:.2f}", showarrow=False,
                            xanchor="left", yanchor="middle", xshift=1, yshift=-2,
                            width=71, height=17, align="center", borderpad=0, bgcolor=col,
                            font=dict(family=FONT, size=16.5, color="white")))

# bid line and its price box
shapes.append(dict(type="line", xref="paper", x0=0, x1=1, yref="y", y0=last, y1=last,
                   line=dict(color=GRID, width=1), layer="between"))
annotations.append(dict(x=1, y=last, xref="paper", yref="y", text=f"{last:.2f}", showarrow=False,
                        xanchor="left", yanchor="middle", xshift=1, width=71, height=17,
                        align="center", borderpad=0, bgcolor="black",
                        font=dict(family=FONT, size=16.5, color="white")))

# chart header
annotations.append(dict(x=0, y=1, xref="paper", yref="paper", text="▼", showarrow=False,
                        xanchor="left", yanchor="middle", xshift=5, yshift=-12,
                        font=dict(family="DejaVu Sans", size=10, color="black")))
annotations.append(dict(x=0, y=1, xref="paper", yref="paper",
                        text=f"XAUUSD,M30  {opens[n-1]:.2f} {highs[n-1]:.2f} {lows[n-1]:.2f} {last:.2f}",
                        showarrow=False, xanchor="left", yanchor="middle", xshift=22, yshift=-12,
                        font=dict(family=FONT, size=16, color="black")))

fig.update_layout(
    width=3839, height=2021,
    margin=dict(l=3, r=83, t=5, b=31),
    paper_bgcolor="white", plot_bgcolor="white",
    showlegend=False,
    shapes=shapes, annotations=annotations,
    xaxis=dict(
        range=[-0.45, 936.6], rangeslider=dict(visible=False),
        tickmode="array", tickvals=label_bars, ticktext=date_labels,
        ticks="outside", ticklen=3, tickcolor="black", ticklabelposition="outside right",
        tickfont=dict(family=FONT, size=16.5, color="black"),
        showgrid=True, gridcolor=GRID, griddash="dot", gridwidth=1,
        minor=dict(tickmode="array", tickvals=grid_bars, showgrid=True,
                   gridcolor=GRID, griddash="dot", gridwidth=1, ticks=""),
        showline=True, linecolor="black", linewidth=1, mirror=True, zeroline=False,
    ),
    yaxis=dict(
        side="right", range=[4545.63, 4906.4],
        tickmode="array", tickvals=price_ticks, ticktext=tick_text,
        ticks="outside", ticklen=3, tickcolor="black",
        tickfont=dict(family=FONT, size=16.5, color="black"),
        showgrid=True, gridcolor=GRID, griddash="dot", gridwidth=1,
        showline=True, linecolor="black", linewidth=1, mirror=True, zeroline=False,
    ),
)

fig.write_html("out.html", config={"displayModeBar": False},
               post_script="document.body.style.margin='0';document.body.style.overflow='hidden';")
